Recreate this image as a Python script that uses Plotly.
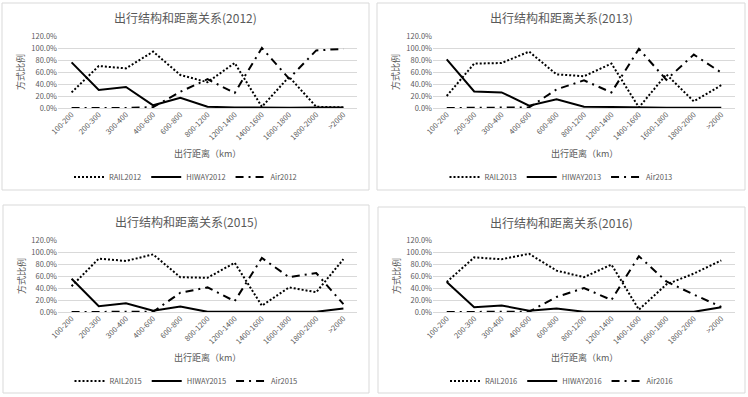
import plotly.graph_objects as go

categories = ["100-200", "200-300", "300-400", "400-600", "600-800", "800-1200",
              "1200-1400", "1400-1600", "1600-1800", "1800-2000", ">2000"]
years = ["2012", "2013", "2015", "2016"]

rail_2012 = [0.26, 0.70, 0.66, 0.94, 0.55, 0.43, 0.75, 0.02, 0.52, 0.02, 0.01]
hiway_2012 = [0.76, 0.30, 0.35, 0.045, 0.17, 0.02, 0.01, 0.005, 0.005, 0.01, 0.01]
air_2012 = [0.0, 0.0, 0.0, 0.015, 0.27, 0.48, 0.25, 1.00, 0.49, 0.96, 0.985]

rail_2013 = [0.20, 0.74, 0.75, 0.94, 0.56, 0.53, 0.74, 0.01, 0.56, 0.11, 0.38]
hiway_2013 = [0.81, 0.275, 0.26, 0.04, 0.145, 0.02, 0.017, 0.005, 0.005, 0.005, 0.005]
air_2013 = [0.0, 0.0, 0.0, 0.01, 0.31, 0.46, 0.26, 0.985, 0.47, 0.89, 0.59]

rail_2015 = [0.43, 0.89, 0.85, 0.96, 0.58, 0.57, 0.82, 0.105, 0.41, 0.33, 0.88]
hiway_2015 = [0.555, 0.095, 0.146, 0.02, 0.09, 0.003, 0.003, 0.003, 0.003, 0.003, 0.06]
air_2015 = [0.0, 0.0, 0.0, 0.005, 0.32, 0.41, 0.18, 0.90, 0.58, 0.65, 0.13]

rail_2016 = [0.50, 0.91, 0.88, 0.97, 0.69, 0.58, 0.79, 0.04, 0.46, 0.64, 0.86]
hiway_2016 = [0.50, 0.08, 0.11, 0.02, 0.06, 0.003, 0.003, 0.003, 0.003, 0.003, 0.08]
air_2016 = [0.0, 0.0, 0.0, 0.005, 0.25, 0.40, 0.20, 0.93, 0.51, 0.29, 0.085]

series = {
    "2012": (rail_2012, hiway_2012, air_2012),
    "2013": (rail_2013, hiway_2013, air_2013),
    "2015": (rail_2015, hiway_2015, air_2015),
    "2016": (rail_2016, hiway_2016, air_2016),
}

W, H = 748, 397
FONT = "Noto Sans CJK SC"
GRAY = "#595959"

def px(x):
    return x / W

def py(y):
    return 1 - y / H

# plot areas (pixels): x0, x1, y_top, y_bottom
areas = [(58, 357, 36, 108), (433, 735, 36, 108), (58, 357, 240, 312), (433, 735, 240, 312)]
boxes = [(2, 369, 3, 190), (377, 745, 3, 190), (3, 369, 205, 393), (378, 745, 207, 393)]
title_y = [18, 18, 221, 222]
xtitle_y = [154, 154, 357, 357]
legend_y = [177, 177, 381, 381]

fig = go.Figure()
annotations = []
shapes = []

for i, yr in enumerate(years):
    rail, hiway, air = series[yr]
    sfx = "" if i == 0 else str(i + 1)
    xa, ya = "x" + sfx, "y" + sfx
    leg = "legend" + sfx
    fig.add_trace(go.Scatter(x=categories, y=rail, mode="lines", name="RAIL" + yr,
                             line=dict(color="black", width=2, dash="2px,2px"),
                             xaxis=xa, yaxis=ya, legend=leg))
    fig.add_trace(go.Scatter(x=categories, y=hiway, mode="lines", name="HIWAY" + yr,
                             line=dict(color="black", width=2),
                             xaxis=xa, yaxis=ya, legend=leg))
    fig.add_trace(go.Scatter(x=categories, y=air, mode="lines", name="Air" + yr,
                             line=dict(color="black", width=2, dash="8px,5px,2px,5px"),
                             xaxis=xa, yaxis=ya, legend=leg))

    x0, x1, yt, yb = areas[i]
    bx0, bx1, by0, by1 = boxes[i]
    fig.update_layout(**{
        "xaxis" + sfx: dict(domain=[px(x0), px(x1)], anchor=ya, type="category",
                            range=[-0.5, 10.5], tickangle=-45, showgrid=False,
                            showline=False, zeroline=False, ticks="",
                            tickfont=dict(size=7.5, color=GRAY, family=FONT)),
        "yaxis" + sfx: dict(domain=[py(yb), py(yt)], anchor=xa, range=[0, 1.2],
                            dtick=0.2, tickformat=".1%", showgrid=True,
                            gridcolor="#d9d9d9", gridwidth=1, zeroline=True,
                            zerolinecolor="#d9d9d9", zerolinewidth=1, showline=False,
                            ticks="", tickfont=dict(size=7.5, color=GRAY, family=FONT)),
        leg: dict(orientation="h", x=px((bx0 + bx1) / 2), xanchor="center",
                  y=py(legend_y[i]), yanchor="middle", bgcolor="rgba(0,0,0,0)",
                  font=dict(size=7.5, color=GRAY, family=FONT), itemwidth=30),
    })

    shapes.append(dict(type="rect", xref="paper", yref="paper",
                       x0=px(bx0), x1=px(bx1), y0=py(by1), y1=py(by0),
                       line=dict(color="#d9d9d9", width=1), layer="below"))
    cx = px((bx0 + bx1) / 2)
    annotations.append(dict(text="出行结构和距离关系(" + yr + ")", xref="paper", yref="paper",
                            x=cx, y=py(title_y[i]), xanchor="center", yanchor="middle",
                            showarrow=False, font=dict(size=12, color=GRAY, family=FONT)))
    annotations.append(dict(text="出行距离（km）", xref="paper", yref="paper",
                            x=px((x0 + x1) / 2), y=py(xtitle_y[i]), xanchor="center",
                            yanchor="middle", showarrow=False,
                            font=dict(size=9, color=GRAY, family=FONT)))
    annotations.append(dict(text="方式比例", xref="paper", yref="paper",
                            x=px(bx0 + 18), y=py((yt + yb) / 2), xanchor="center",
                            yanchor="middle", textangle=-90, showarrow=False,
                            font=dict(size=9, color=GRAY, family=FONT)))

fig.update_layout(width=W, height=H, margin=dict(l=0, r=0, t=0, b=0, autoexpand=False),
                  paper_bgcolor="white", plot_bgcolor="white",
                  annotations=annotations, shapes=shapes, showlegend=True)

fig.write_html("out.html", config={"displayModeBar": False},
               post_script="document.body.style.margin='0';")
